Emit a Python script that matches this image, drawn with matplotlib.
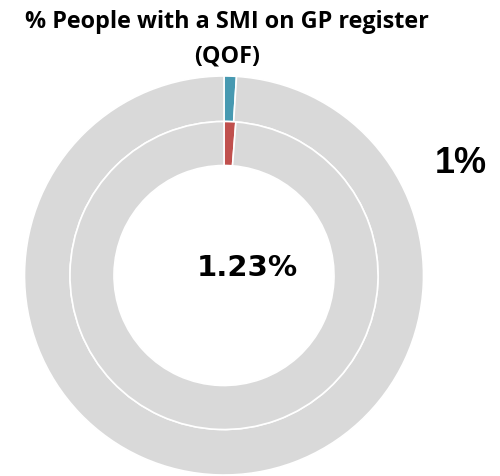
import matplotlib
matplotlib.use("Agg")
import matplotlib.pyplot as plt

# values
title_lines = ["% People with a SMI on GP register", "(QOF)"]
outer_values = [1.0, 99.0]      # outer ring (label on the right)
inner_values = [1.23, 98.77]    # inner ring (label in the centre)
outer_colors = ["#4799B1", "#D9D9D9"]
inner_colors = ["#C0504D", "#D9D9D9"]
outer_label = "1%"
inner_label = "1.23%"

W, H = 500, 476
fig = plt.figure(figsize=(W / 100, H / 100), dpi=100)
ax = fig.add_axes([0, 0, 1, 1])

cx, cy = 224, H - 275.5
r_out, r_mid, r_in = 199.5, 154, 110

ax.pie(outer_values, colors=outer_colors, radius=r_out, center=(cx, cy),
       startangle=90, counterclock=False, frame=True,
       wedgeprops=dict(width=r_out - r_mid, edgecolor="white", linewidth=1.2))
ax.pie(inner_values, colors=inner_colors, radius=r_mid, center=(cx, cy),
       startangle=90, counterclock=False, frame=True,
       wedgeprops=dict(width=r_mid - r_in, edgecolor="white", linewidth=1.2))
ax.set_xlim(0, W)
ax.set_ylim(0, H)
ax.set_aspect("equal")
ax.axis("off")

ax.text(227, H - 28, title_lines[0], ha="center", va="baseline",
        fontsize=16.8, fontweight="bold", family="Open Sans")
ax.text(227, H - 62, title_lines[1], ha="center", va="baseline",
        fontsize=16.8, fontweight="bold", family="Open Sans")

ax.text(247, H - 268, inner_label, ha="center", va="center",
        fontsize=21, fontweight="bold", family="DejaVu Sans")
ax.text(461, H - 163.5, outer_label, ha="center", va="center",
        fontsize=26, fontweight="bold", family="Liberation Sans")

fig.savefig("out.png", dpi=100)
